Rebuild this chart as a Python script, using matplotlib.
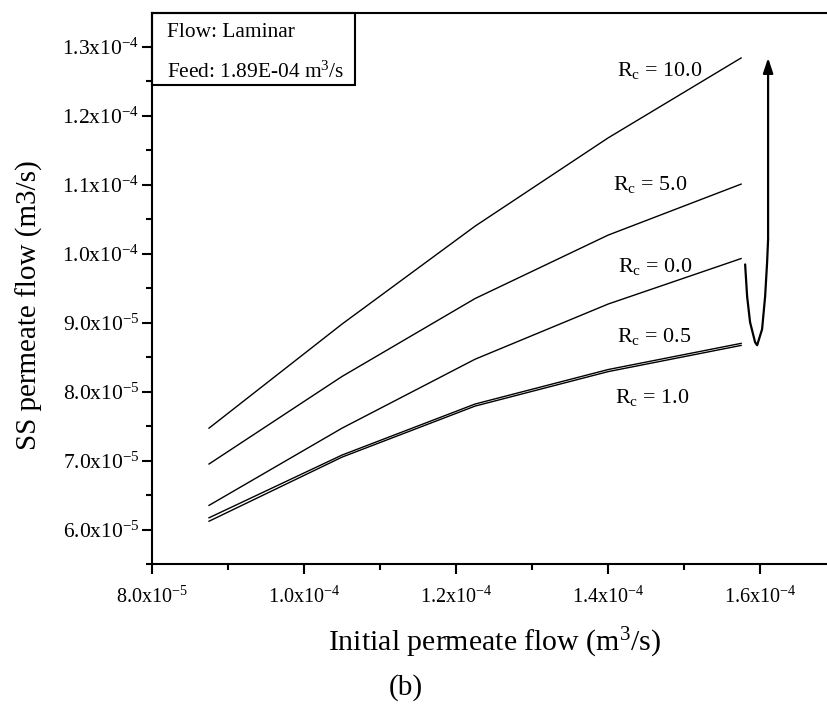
import matplotlib
matplotlib.use("Agg")
import matplotlib.pyplot as plt
from matplotlib.patches import Rectangle

plt.rcParams['font.family'] = ['Liberation Serif', 'DejaVu Serif']
plt.rcParams['mathtext.default'] = 'regular'

# initial permeate flow (m3/s)
x_flow = [8.75e-5, 1.05e-4, 1.225e-4, 1.40e-4, 1.575e-4]

# steady state permeate flow for each Rc
ss_rc10 = [7.47e-5, 8.98e-5, 1.040e-4, 1.168e-4, 1.284e-4]
ss_rc5 = [6.95e-5, 8.22e-5, 9.35e-5, 1.027e-4, 1.101e-4]
ss_rc0 = [6.35e-5, 7.47e-5, 8.47e-5, 9.27e-5, 9.93e-5]
ss_rc05 = [6.17e-5, 7.08e-5, 7.82e-5, 8.32e-5, 8.70e-5]
ss_rc1 = [6.12e-5, 7.05e-5, 7.79e-5, 8.29e-5, 8.67e-5]

series = [ss_rc10, ss_rc5, ss_rc0, ss_rc05, ss_rc1]
labels = ['10.0', '5.0', '0.0', '0.5', '1.0']
label_x = [1.412e-4, 1.407e-4, 1.413e-4, 1.412e-4, 1.409e-4]
label_y = [1.258e-4, 1.092e-4, 9.74e-5, 8.72e-5, 7.83e-5]

# hand drawn curved arrow
arrow_x = [1.5803e-4, 1.5829e-4, 1.5868e-4, 1.5934e-4, 1.5961e-4, 1.6026e-4, 1.6066e-4, 1.6092e-4, 1.6105e-4]
arrow_y = [9.845e-5, 9.382e-5, 9.006e-5, 8.716e-5, 8.673e-5, 8.905e-5, 9.382e-5, 9.874e-5, 1.0207e-4]
arrow_top = 1.2841e-4

xticks = [8.0e-5, 1.0e-4, 1.2e-4, 1.4e-4, 1.6e-4]
xticklabels = ['8.0x10$^{-5}$', '1.0x10$^{-4}$', '1.2x10$^{-4}$', '1.4x10$^{-4}$', '1.6x10$^{-4}$']
xminor = [9.0e-5, 1.1e-4, 1.3e-4, 1.5e-4]
yticks = [6.0e-5, 7.0e-5, 8.0e-5, 9.0e-5, 1.0e-4, 1.1e-4, 1.2e-4, 1.3e-4]
yticklabels = ['6.0x10$^{-5}$', '7.0x10$^{-5}$', '8.0x10$^{-5}$', '9.0x10$^{-5}$',
               '1.0x10$^{-4}$', '1.1x10$^{-4}$', '1.2x10$^{-4}$', '1.3x10$^{-4}$']
yminor = [5.5e-5, 6.5e-5, 7.5e-5, 8.5e-5, 9.5e-5, 1.05e-4, 1.15e-4, 1.25e-4]

fig = plt.figure(figsize=(8.27, 7.07), dpi=100)
ax = fig.add_axes([0.1838, 0.2023, 0.8162, 0.7797])

for ys in series:
    ax.plot(x_flow, ys, color='black', lw=1.0)

for lab, lx, ly in zip(labels, label_x, label_y):
    ax.text(lx, ly, 'R$_{c}$ = ' + lab, fontsize=15.8, va='baseline', ha='left')

ax.plot(arrow_x, arrow_y, color='black', lw=1.6, solid_capstyle='round')
ax.annotate('', xy=(arrow_x[-1], arrow_top), xytext=(arrow_x[-1], arrow_y[-1]),
            arrowprops=dict(arrowstyle='-|>,head_length=0.9,head_width=0.3',
                            color='black', lw=1.6, shrinkA=0, shrinkB=0))

ax.set_xlim(8.0e-5, 1.688e-4)
ax.set_ylim(5.52e-5, 1.3496e-4)
ax.set_xticks(xticks)
ax.set_xticklabels(xticklabels)
ax.set_xticks(xminor, minor=True)
ax.set_yticks(yticks)
ax.set_yticklabels(yticklabels)
ax.set_yticks(yminor, minor=True)
ax.tick_params(which='major', direction='out', length=7, width=1.5)
ax.tick_params(which='minor', direction='out', length=4, width=1.5)
ax.tick_params(axis='x', which='major', labelsize=14.5, pad=9)
ax.tick_params(axis='y', which='major', labelsize=15.5, pad=2)

for side in ['left', 'bottom', 'top']:
    ax.spines[side].set_linewidth(1.5)
ax.spines['right'].set_visible(False)

ax.set_ylabel('SS permeate flow (m3/s)', fontsize=21, va='center')
ax.yaxis.set_label_coords(-0.181, 0.47)
ax.set_xlabel('Initial permeate flow (m$^{3}$/s)', fontsize=21.5, va='center')
ax.xaxis.set_label_coords(0.508, -0.143)

# info box in the corner
ax.add_patch(Rectangle((0, 0.869), 0.30, 0.131, transform=ax.transAxes,
                       fill=False, lw=1.5, edgecolor='black', clip_on=False))
ax.text(0.022, 0.965, 'Flow: Laminar', transform=ax.transAxes, fontsize=15.4, va='center')
ax.text(0.022, 0.893, 'Feed: 1.89E-04 m$^{3}$/s', transform=ax.transAxes, fontsize=15.4, va='center')

fig.text(0.491, 1 - 688 / 707, '(b)', fontsize=21, ha='center', va='center')

fig.savefig('out.png', dpi=100)
